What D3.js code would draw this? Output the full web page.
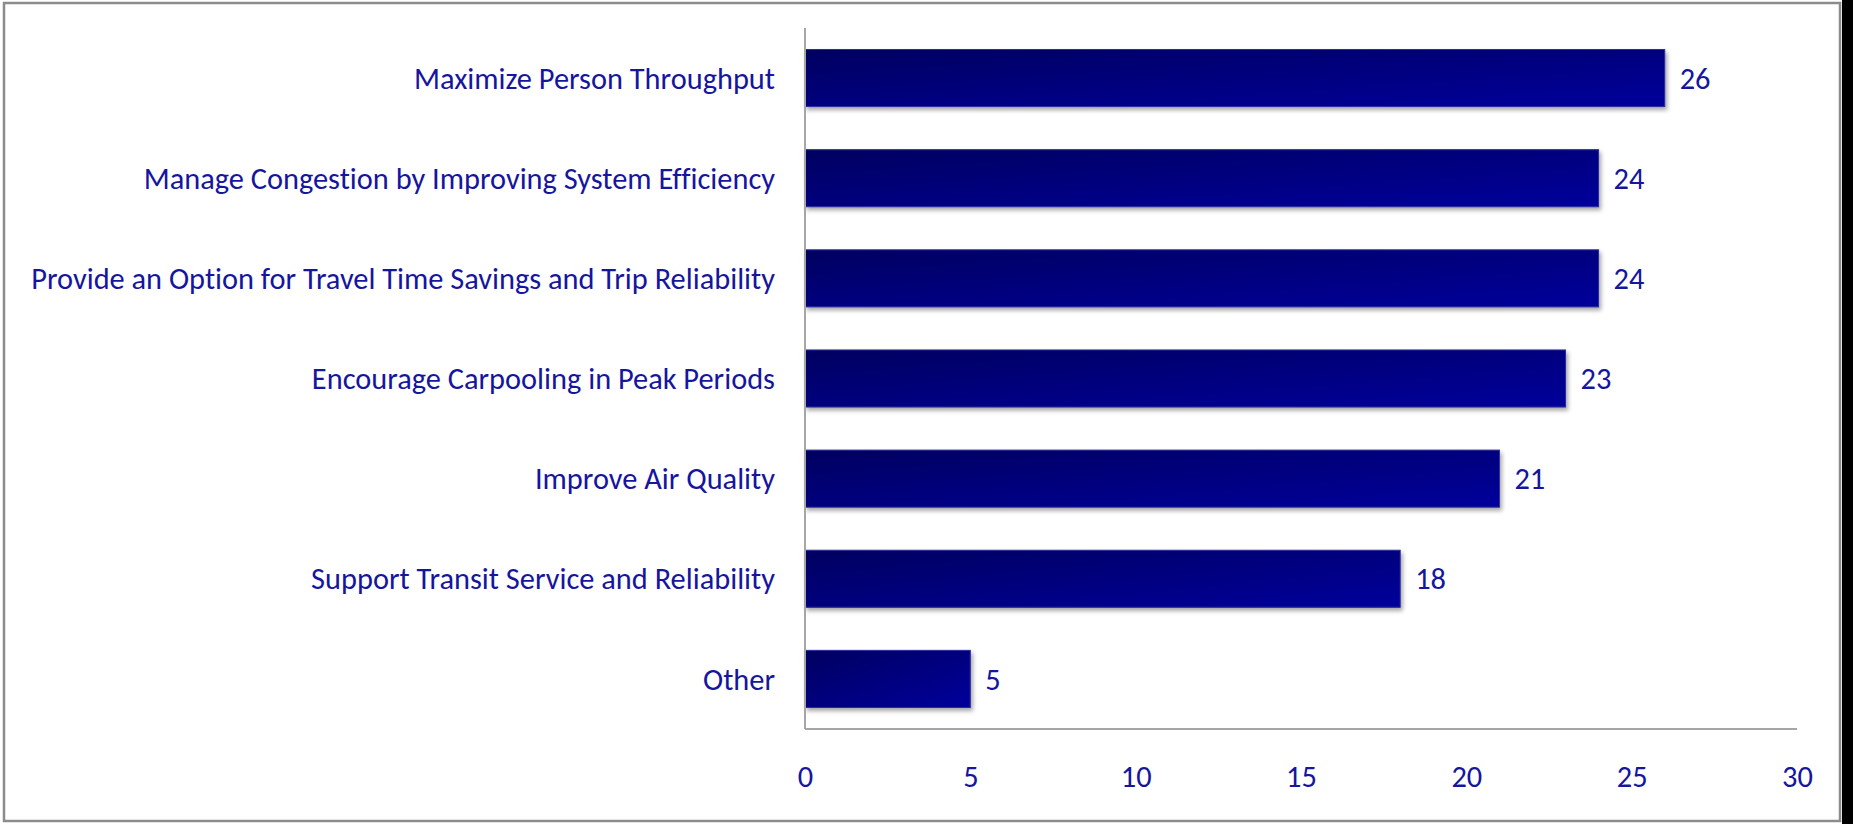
<!DOCTYPE html>
<html>
<head>
<meta charset="utf-8">
<script src="https://cdn.jsdelivr.net/npm/d3@7"></script>
<style>
  html, body { margin: 0; padding: 0; background: #ffffff; }
  svg { display: block; }
  text { font-family: Carlito, Calibri, Lato, "Open Sans", sans-serif; fill: #15159e;
         font-variant-ligatures: none; font-feature-settings: "liga" 0; }
</style>
</head>
<body>
<svg id="chart" width="1853" height="824"></svg>
<script>
// Responses per HOT lane objective
const categories = [
  "Maximize Person Throughput",
  "Manage Congestion by Improving System Efficiency",
  "Provide an Option for Travel Time Savings and Trip Reliability",
  "Encourage Carpooling in Peak Periods",
  "Improve Air Quality",
  "Support Transit Service and Reliability",
  "Other"
];
const counts = [26, 24, 24, 23, 21, 18, 5];
const xTicks = [0, 5, 10, 15, 20, 25, 30];

const W = 1853, H = 824;
const plot = { left: 805, right: 1797, top: 28, bottom: 729 };
const labelLeft = 31, labelRight = 775;

const svg = d3.select("#chart");

// Outer frame of the chart object with dark edge on the right
svg.append("rect").attr("x", 1842).attr("y", 0).attr("width", W - 1842).attr("height", H).attr("fill", "#000");
svg.append("rect").attr("x", 4).attr("y", 3).attr("width", 1836).attr("height", 818)
  .attr("fill", "#fff").attr("stroke", "#8c8c8c").attr("stroke-width", 2.5);

const defs = svg.append("defs");
const grad = defs.append("linearGradient").attr("id", "barFill")
  .attr("x1", "0%").attr("y1", "0%").attr("x2", "100%").attr("y2", "100%");
grad.append("stop").attr("offset", "0%").attr("stop-color", "#000060");
grad.append("stop").attr("offset", "100%").attr("stop-color", "#00009c");

const shadow = defs.append("filter").attr("id", "barShadow")
  .attr("x", "-5%").attr("y", "-20%").attr("width", "115%").attr("height", "150%");
shadow.append("feDropShadow").attr("dx", 2).attr("dy", 3).attr("stdDeviation", 2.2)
  .attr("flood-color", "#000").attr("flood-opacity", 0.35);

const x = d3.scaleLinear().domain([0, 30]).range([plot.left, plot.right]);
const y = d3.scaleBand().domain(categories).range([plot.top, plot.bottom])
  .paddingInner(0.43).paddingOuter(0.215);

// Fit category label size to the left margin
const probe = svg.append("text").attr("font-size", 100)
  .text(categories.reduce((a, b) => a.length > b.length ? a : b));
const fontSize = 100 * (labelRight - labelLeft) / probe.node().getComputedTextLength();
probe.remove();

// Bars
svg.append("g").selectAll("rect").data(counts).join("rect")
  .attr("x", x(0))
  .attr("y", (d, i) => y(categories[i]))
  .attr("width", d => x(d) - x(0))
  .attr("height", y.bandwidth())
  .attr("fill", "url(#barFill)")
  .attr("stroke", "#2a2aa0").attr("stroke-width", 1)
  .attr("filter", "url(#barShadow)");

// Value labels
svg.append("g").selectAll("text").data(counts).join("text")
  .attr("x", d => x(d) + 15)
  .attr("y", (d, i) => y(categories[i]) + y.bandwidth() / 2)
  .attr("dy", "0.35em")
  .attr("font-size", fontSize)
  .text(d => d);

// Category axis
const yAxis = svg.append("g").attr("transform", `translate(${plot.left},0)`)
  .call(d3.axisLeft(y).tickSize(0).tickPadding(plot.left - labelRight));
yAxis.select(".domain").attr("stroke", "#a6a6a6").attr("stroke-width", 2)
  .attr("d", `M0,${plot.top}V${plot.bottom}`);
yAxis.selectAll(".tick text").attr("font-size", fontSize)
  .attr("font-family", null).attr("fill", null).attr("dy", "0.35em");

// Value axis
const xAxis = svg.append("g").attr("transform", `translate(0,${plot.bottom})`)
  .call(d3.axisBottom(x).tickValues(xTicks).tickSize(0).tickPadding(36).tickFormat(d3.format("d")));
xAxis.select(".domain").attr("stroke", "#a6a6a6").attr("stroke-width", 2)
  .attr("d", `M${plot.left},0H${plot.right}`);
xAxis.selectAll(".tick text").attr("font-size", fontSize)
  .attr("font-family", null).attr("fill", null);
</script>
</body>
</html>
